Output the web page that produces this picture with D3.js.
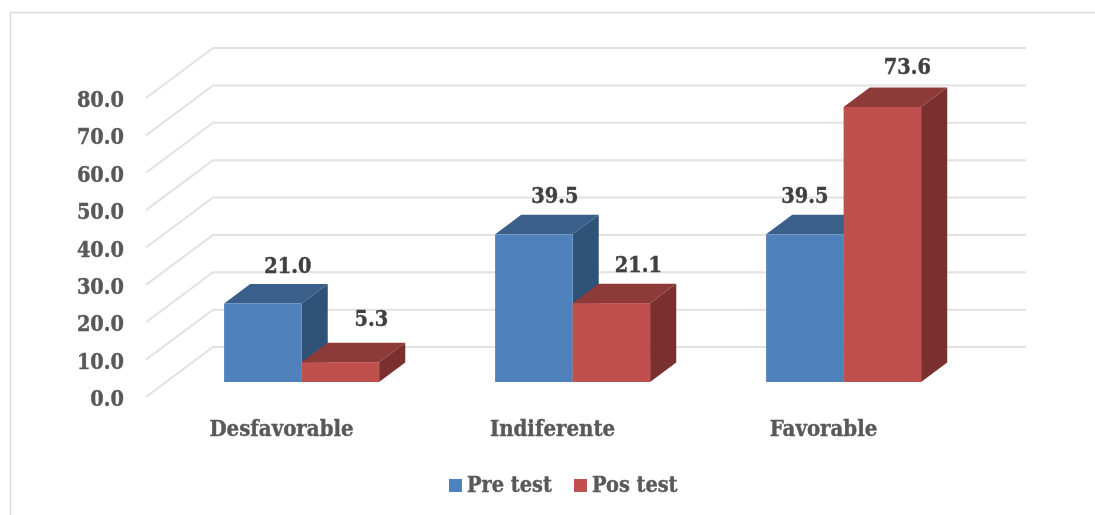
<!DOCTYPE html>
<html><head><meta charset="utf-8">
<script src="https://cdn.jsdelivr.net/npm/d3@7"></script>
<style>
html,body{margin:0;padding:0;background:#fff}
svg{display:block;filter:blur(0.35px)}
text{font-family:"DejaVu Serif Condensed","DejaVu Serif",serif;font-weight:700;stroke-width:0.4px}
.domain{display:none}
</style></head><body><svg id="c" width="1095" height="515"></svg>
<script>
const categories = ["Desfavorable","Indiferente","Favorable"];
const seriesNames = ["Pre test","Pos test"];
const preTest = [21.0,39.5,39.5];
const posTest = [5.3,21.1,73.6];
const yTicks = [0,10,20,30,40,50,60,70,80];
const seriesValues = [preTest,posTest];
const faceColors = ["#4f81bd","#c0504d"];
const topColors = ["#3a5f8b","#8e3a38"];
const sideColors = ["#2f5279","#7a302e"];

const svg = d3.select("#c");
const depthX = 67, depthY = 50;            // wall offset of the floor
const nearF = 0.3, farF = 0.69;            // bar depth as fraction of floor
const y = d3.scaleLinear().domain([0,80]).range([397,98]);
const x = d3.scaleBand().domain(categories).range([146,959]);
const sx = d3.scaleBand().domain(seriesNames).range([-77.5,77.5]);

// frame
svg.append("path").attr("d","M10.5,515V12.5H1095").attr("fill","none").attr("stroke","#d9d9d9").attr("stroke-width",1.5);

// grid
svg.append("g").selectAll("path").data(yTicks).join("path")
  .attr("d",d=>`M${x.range()[0]},${y(d)}L${x.range()[0]+depthX},${y(d)-depthY}H${x.range()[1]+depthX}`)
  .attr("fill","none").attr("stroke","#e2e2e2").attr("stroke-width",2);

// bars
const labelNudge = [[[25,-31],[31,-36]],[[21,-31],[27,-31]],[[0,-31],[25,-33]]];
const nx = depthX*nearF, ny = depthY*nearF;
const fx = depthX*(farF-nearF), fy = depthY*(farF-nearF);
const barG = svg.append("g");
const bars = [];
categories.forEach((c,i)=>seriesNames.forEach((s,j)=>bars.push({c,s,i,j,v:seriesValues[j][i]})));
bars.forEach(b=>{
  const x0 = x(b.c)+x.bandwidth()/2+nx+sx(b.s), w = sx.bandwidth();
  const yb = y(0)-ny, yt = y(b.v)-ny;
  const g = barG.append("g");
  g.append("path").attr("fill",sideColors[b.j])
   .attr("d",`M${x0+w},${yb}L${x0+w+fx},${yb-fy}V${yt-fy}L${x0+w},${yt}Z`);
  g.append("path").attr("fill",topColors[b.j])
   .attr("d",`M${x0},${yt}L${x0+fx},${yt-fy}H${x0+w+fx}L${x0+w},${yt}Z`);
  g.append("rect").attr("x",x0).attr("y",yt).attr("width",w).attr("height",yb-yt).attr("fill",faceColors[b.j]);
});
bars.forEach(b=>{
  const x0 = x(b.c)+x.bandwidth()/2+nx+sx(b.s), w = sx.bandwidth();
  const n = labelNudge[b.i][b.j];
  svg.append("text").attr("x",x0+w/2+n[0]).attr("y",y(b.v)-ny+n[1])
    .attr("text-anchor","middle").attr("font-size",21.5).attr("fill","#404040").attr("stroke","#404040")
    .text(b.v.toFixed(1));
});

// axes
const ya = svg.append("g").attr("transform","translate(146,0)")
  .call(d3.axisLeft(y).tickValues(yTicks).tickSize(0).tickPadding(22).tickFormat(d3.format(".1f")));
ya.selectAll("text").attr("font-size",21.5).attr("fill","#595959").attr("stroke","#595959").attr("dy",null).attr("y",8.5);
const xa = svg.append("g").attr("transform","translate(0,436)")
  .call(d3.axisBottom(x).tickSize(0).tickPadding(0));
xa.selectAll("text").attr("font-size",22).attr("fill","#595959").attr("stroke","#595959").attr("dy",null).attr("y",0);

// legend
const legX = [449,574];
const leg = svg.append("g").selectAll("g").data(seriesNames).join("g")
  .attr("transform",(d,i)=>`translate(${legX[i]},479)`);
leg.append("rect").attr("width",13).attr("height",13).attr("fill",(d,i)=>faceColors[i]);
leg.append("text").attr("x",18).attr("y",13).attr("font-size",21.5).attr("fill","#595959").attr("stroke","#595959").text(d=>d);
</script></body></html>
